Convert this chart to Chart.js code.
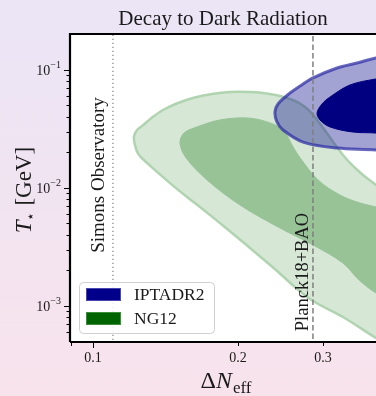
<!DOCTYPE html>
<html>
<head>
<meta charset="utf-8">
<script src="https://cdn.jsdelivr.net/npm/chart.js@4.4.1/dist/chart.umd.min.js"></script>
<style>
html, body { margin: 0; padding: 0; }
body { width: 376px; height: 396px; overflow: hidden;
  background: linear-gradient(180deg, #ebe5f6 0%, #f1e4f1 50%, #f8e3ec 100%); }
#wrap { position: relative; width: 376px; height: 396px; }
</style>
</head>
<body>
<div id="wrap"><canvas id="c" width="376" height="396"></canvas></div>
<script>
// contour outlines (x = Delta N_eff, y = T* in GeV)
const ng12OuterX = [0.4769,0.4769,0.4335,0.3865,0.3301,0.2861,0.2637,0.2397,0.2117,0.1943,0.1667,0.1567,0.1445,0.1294,0.1240,0.1222,0.1216,0.1234,0.1270,0.1326,0.1397,0.1501,0.1612,0.1766,0.1924,0.2117,0.2253,0.2443,0.2625,0.2754,0.2861,0.3044,0.3239,0.3413,0.3632,0.3865,0.4335,0.4769];
const ng12OuterY = [0.00515,0.000316,0.000408,0.000536,0.000807,0.001103,0.001421,0.00202,0.00310,0.00416,0.00690,0.00839,0.0110,0.0163,0.0196,0.0232,0.0271,0.0310,0.0340,0.0395,0.0458,0.0525,0.0579,0.0626,0.0651,0.0651,0.0638,0.0602,0.0546,0.0486,0.0416,0.0298,0.0210,0.0163,0.0129,0.0106,0.00718,0.00515];

const ng12InnerX = [0.4335,0.4335,0.3865,0.3564,0.3301,0.2861,0.2443,0.2018,0.1724,0.1560,0.1515,0.1545,0.1643,0.1834,0.2087,0.2296,0.2479,0.2600,0.2689,0.2930,0.3254,0.3580,0.3865,0.4335];
const ng12InnerY = [0.00602,0.00102,0.001289,0.00166,0.00231,0.00329,0.00458,0.00718,0.0117,0.0180,0.0241,0.0292,0.0329,0.0377,0.0392,0.0363,0.0310,0.0223,0.0180,0.0117,0.00872,0.00746,0.00690,0.00602];

const iptaOuterX = [0.4769,0.4769,0.3865,0.3208,0.2728,0.2479,0.2408,0.2385,0.2420,0.2563,0.2689,0.2861,0.3208,0.3529,0.3865,0.4769];
const iptaOuterY = [0.1477,0.0190,0.0210,0.0218,0.0245,0.0310,0.0363,0.0441,0.0515,0.0638,0.0732,0.0856,0.1040,0.1146,0.1264,0.1477];

const iptaInnerX = [0.4769,0.4769,0.3865,0.3463,0.3103,0.2958,0.2916,0.2987,0.3103,0.3413,0.3865,0.4769];
const iptaInnerY = [0.0962,0.0265,0.0292,0.0298,0.0329,0.0377,0.0432,0.0515,0.0590,0.0746,0.0839,0.0962];

const simonsX = 0.11;
const planckX = 0.286;
const lineYs = [1e-4, 1];

const xRange = [0.0896, 0.3865];
const yRange = [4.95e-4, 0.2018];

const xMajor = [0.1];
const xMinor = [0.09, 0.2, 0.3];
const xLabelVals = [0.1, 0.2, 0.3];
const xLabels = ['0.1', '0.2', '0.3'];

const yMajor = [1e-3, 1e-2, 1e-1];
const yExpLabels = ['\u22123', '\u22122', '\u22121'];
const yMinor = [6e-4,7e-4,8e-4,9e-4,2e-3,3e-3,4e-3,5e-3,6e-3,7e-3,8e-3,9e-3,2e-2,3e-2,4e-2,5e-2,6e-2,7e-2,8e-2,9e-2];

const legendLabels = ['IPTADR2', 'NG12'];
const legendColors = ['#00008b', '#006400'];

const serif = '"Liberation Serif", "DejaVu Serif", serif';
const ink = '#1a1a1a';

function pts(xs, ys) { return xs.map((x, i) => ({ x: x, y: ys[i] })); }

const decor = {
  id: 'decor',
  beforeDraw(chart) {
    const { ctx, chartArea: a } = chart;
    ctx.save();
    ctx.fillStyle = '#ffffff';
    ctx.fillRect(a.left, a.top, a.right - a.left, a.bottom - a.top);
    ctx.restore();
  },
  afterDraw(chart) {
    const { ctx, chartArea: a } = chart;
    const sx = chart.scales.x, sy = chart.scales.y;
    ctx.save();
    ctx.fillStyle = ink;

    // vertical labels next to the bound lines
    ctx.font = '19px ' + serif;
    ctx.textAlign = 'center';
    ctx.textBaseline = 'alphabetic';
    ctx.save();
    ctx.translate(sx.getPixelForValue(simonsX) - 9, 175);
    ctx.rotate(-Math.PI / 2);
    ctx.fillText('Simons Observatory', 0, 0);
    ctx.restore();
    ctx.font = '18.5px ' + serif;
    ctx.save();
    ctx.translate(sx.getPixelForValue(planckX) - 5, 272);
    ctx.rotate(-Math.PI / 2);
    ctx.fillText('Planck18+BAO', 0, 0);
    ctx.restore();

    // legend
    ctx.beginPath();
    ctx.roundRect(79.5, 282.5, 135, 51, 4);
    ctx.fillStyle = 'rgba(255,255,255,0.85)';
    ctx.fill();
    ctx.strokeStyle = '#d0d0d0';
    ctx.lineWidth = 1;
    ctx.stroke();
    ctx.font = '17.5px ' + serif;
    ctx.textAlign = 'left';
    ctx.textBaseline = 'middle';
    legendLabels.forEach((lab, i) => {
      const y = 288 + i * 24;
      ctx.fillStyle = legendColors[i];
      ctx.fillRect(86, y, 35, 13);
      ctx.strokeStyle = i === 0 ? 'rgba(120,120,200,0.6)' : 'rgba(100,170,100,0.6)';
      ctx.strokeRect(86.5, y + 0.5, 34, 12);
      ctx.fillStyle = ink;
      ctx.fillText(lab, 134, y + 7);
    });

    // spines
    ctx.strokeStyle = '#000';
    ctx.lineWidth = 2.2;
    ctx.beginPath();
    ctx.moveTo(a.left, a.bottom);
    ctx.lineTo(a.left, a.top);
    ctx.lineTo(a.right + 2, a.top);
    ctx.moveTo(a.left, a.bottom);
    ctx.lineTo(a.right + 2, a.bottom);
    ctx.stroke();

    // ticks
    ctx.lineWidth = 1;
    const tickX = (v, len) => {
      const p = Math.round(sx.getPixelForValue(v)) + 0.5;
      ctx.beginPath(); ctx.moveTo(p, a.bottom + 1); ctx.lineTo(p, a.bottom + 1 + len); ctx.stroke();
    };
    const tickY = (v, len) => {
      const p = Math.round(sy.getPixelForValue(v)) + 0.5;
      ctx.beginPath(); ctx.moveTo(a.left - 1, p); ctx.lineTo(a.left - 1 - len, p); ctx.stroke();
    };
    xMajor.forEach(v => tickX(v, 5));
    xMinor.forEach(v => tickX(v, 3));
    yMajor.forEach(v => tickY(v, 5));
    yMinor.forEach(v => tickY(v, 2.5));

    ctx.fillStyle = ink;
    ctx.font = '14px ' + serif;
    ctx.textAlign = 'center';
    ctx.textBaseline = 'middle';
    xLabelVals.forEach((v, i) => ctx.fillText(xLabels[i], sx.getPixelForValue(v), 358));

    yMajor.forEach((v, i) => {
      const p = sy.getPixelForValue(v);
      ctx.font = '10px ' + serif;
      const w = ctx.measureText(yExpLabels[i]).width;
      ctx.textAlign = 'left';
      ctx.fillText(yExpLabels[i], 61 - w, p - 5);
      ctx.font = '14px ' + serif;
      ctx.textAlign = 'right';
      ctx.fillText('10', 61 - w, p + 1);
    });

    // title
    ctx.font = '21px ' + serif;
    ctx.textAlign = 'center';
    ctx.textBaseline = 'alphabetic';
    ctx.fillText('Decay to Dark Radiation', 223, 25);

    // x title: Delta N_eff
    ctx.textAlign = 'left';
    const f1 = '24px ' + serif, f1i = 'italic 24px ' + serif, f2 = '17px ' + serif;
    ctx.font = f1; const wD = ctx.measureText('\u0394').width;
    ctx.font = f1i; const wN = ctx.measureText('N').width;
    ctx.font = f2; const wE = ctx.measureText('eff').width;
    const x0 = 226 - (wD + wN + 1 + wE) / 2;
    ctx.font = f1; ctx.fillText('\u0394', x0, 388);
    ctx.font = f1i; ctx.fillText('N', x0 + wD, 388);
    ctx.font = f2; ctx.fillText('eff', x0 + wD + wN + 1, 393);

    // y title: T_* [GeV]
    ctx.save();
    ctx.translate(31, 190);
    ctx.rotate(-Math.PI / 2);
    const g1i = 'italic 23px ' + serif, g2 = '14px "DejaVu Serif", serif', g1 = '23px ' + serif;
    ctx.font = g1i; const wT = ctx.measureText('T').width;
    ctx.font = g2; const wS = ctx.measureText('\u22c6').width;
    ctx.font = g1; const wG = ctx.measureText(' [GeV]').width;
    const t0 = -(wT + wS + wG) / 2;
    ctx.font = g1i; ctx.fillText('T', t0, 0);
    ctx.font = g2; ctx.fillText('\u22c6', t0 + wT - 1, 4);
    ctx.font = g1; ctx.fillText(' [GeV]', t0 + wT + wS, 0);
    ctx.restore();

    ctx.restore();
  }
};

const common = { showLine: true, pointRadius: 0, tension: 0.35, capBezierPoints: false };

new Chart(document.getElementById('c'), {
  type: 'scatter',
  data: {
    datasets: [
      Object.assign({ label: 'NG12', data: pts(ng12OuterX, ng12OuterY), fill: 'shape',
        backgroundColor: '#d6e7d6', borderColor: '#b0d4b0', borderWidth: 2.5, order: 6 }, common),
      Object.assign({ label: 'NG12 68%', data: pts(ng12InnerX, ng12InnerY), fill: 'shape',
        backgroundColor: '#97c397', borderColor: '#97c397', borderWidth: 1, order: 5 }, common),
      Object.assign({ label: 'IPTADR2', data: pts(iptaOuterX, iptaOuterY), fill: 'shape',
        backgroundColor: 'rgba(10,10,140,0.38)', borderColor: 'rgba(45,45,165,0.72)', borderWidth: 3, order: 4 }, common),
      Object.assign({ label: 'IPTADR2 68%', data: pts(iptaInnerX, iptaInnerY), fill: 'shape',
        backgroundColor: '#000080', borderColor: '#000080', borderWidth: 1, order: 3 }, common),
      { label: 'Simons Observatory', data: pts([simonsX, simonsX], lineYs), showLine: true, pointRadius: 0,
        fill: false, borderColor: '#8a8a8a', borderWidth: 1.3, borderDash: [1.3, 2.7], order: 2 },
      { label: 'Planck18+BAO', data: pts([planckX, planckX], lineYs), showLine: true, pointRadius: 0,
        fill: false, borderColor: '#7f7f7f', borderWidth: 1.5, borderDash: [5.5, 3], order: 1 }
    ]
  },
  options: {
    responsive: false,
    animation: false,
    events: [],
    layout: { padding: { top: 34, left: 0, right: 0, bottom: 0 } },
    plugins: { legend: { display: false }, tooltip: { enabled: false } },
    scales: {
      x: { type: 'logarithmic', min: xRange[0], max: xRange[1],
        grid: { display: false }, border: { display: false }, ticks: { display: false },
        afterFit(s) { s.height = 54; } },
      y: { type: 'logarithmic', min: yRange[0], max: yRange[1],
        grid: { display: false }, border: { display: false }, ticks: { display: false },
        afterFit(s) { s.width = 70; } }
    }
  },
  plugins: [decor]
});
</script>
</body>
</html>
